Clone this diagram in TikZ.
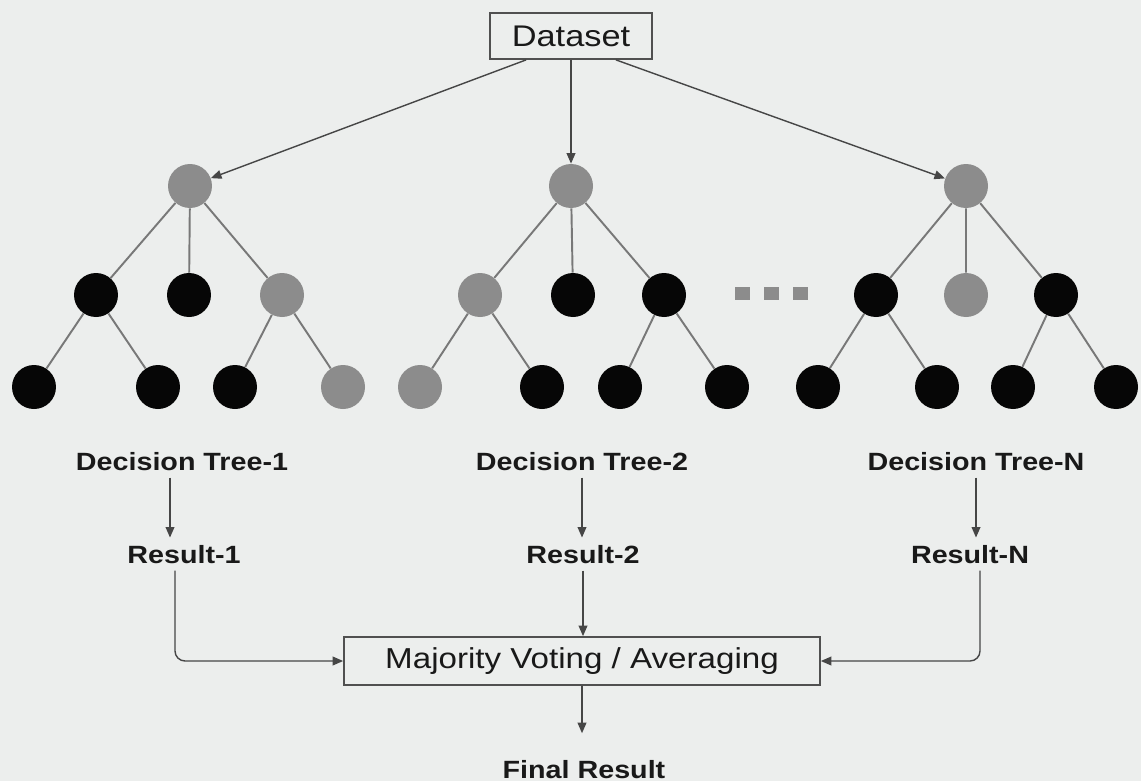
\documentclass[tikz,border=0pt]{standalone}
\usepackage{fontspec}
\setmainfont{Liberation Sans}[FakeStretch=1.15]
\usetikzlibrary{arrows.meta}
\definecolor{bg}{RGB}{236,238,237}
\definecolor{nodeblack}{RGB}{6,6,6}
\definecolor{nodegray}{RGB}{140,140,140}
\definecolor{edgegray}{RGB}{120,120,120}
\definecolor{linedark}{RGB}{70,70,70}
\definecolor{boxgray}{RGB}{80,80,80}
\definecolor{txt}{RGB}{25,25,25}
\begin{document}
\begin{tikzpicture}[x=0.02cm,y=-0.02cm,
  blk/.style={circle,fill=nodeblack,minimum size=0.88cm,inner sep=0pt},
  gry/.style={circle,fill=nodegray,minimum size=0.88cm,inner sep=0pt},
  branch/.style={draw=edgegray,line width=1.1pt},
  flow/.style={draw=linedark,line width=0.8pt,-{Triangle[length=6pt,width=5pt]}},
  lbl/.style={font=\fontsize{14.2}{17}\selectfont\bfseries,text=txt,inner sep=4pt},
  box/.style={draw=boxgray,line width=1pt,text=txt,inner sep=0pt},
  dot/.style={rectangle,fill=nodegray,minimum width=0.3cm,minimum height=0.26cm,inner sep=0pt}]

% page
\fill[bg] (0,0) rectangle (1141,781);
\useasboundingbox (0,0) rectangle (1141,781);

% source
\node[box,minimum width=3.24cm,minimum height=0.92cm,font=\fontsize{17}{20}\selectfont] (ds) at (571,36) {Dataset};

% tree 1
\node[gry] (t1) at (190,186) {};
\node[blk] (t1a) at (96,295) {};
\node[blk] (t1b) at (189,295) {};
\node[gry] (t1c) at (282,295) {};
\node[blk] (t1aa) at (34,387) {};
\node[blk] (t1ab) at (158,387) {};
\node[blk] (t1ca) at (235,387) {};
\node[gry] (t1cb) at (343,387) {};
\draw[branch] (t1) -- (t1a) (t1) -- (t1b) (t1) -- (t1c)
  (t1a) -- (t1aa) (t1a) -- (t1ab) (t1c) -- (t1ca) (t1c) -- (t1cb);

% tree 2
\node[gry] (t2) at (571,186) {};
\node[gry] (t2a) at (480,295) {};
\node[blk] (t2b) at (573,295) {};
\node[blk] (t2c) at (664,295) {};
\node[gry] (t2aa) at (420,387) {};
\node[blk] (t2ab) at (542,387) {};
\node[blk] (t2ca) at (620,387) {};
\node[blk] (t2cb) at (727,387) {};
\draw[branch] (t2) -- (t2a) (t2) -- (t2b) (t2) -- (t2c)
  (t2a) -- (t2aa) (t2a) -- (t2ab) (t2c) -- (t2ca) (t2c) -- (t2cb);

% ellipsis between trees
\node[dot] (d1) at (742,293) {};
\node[dot] (d2) at (771,293) {};
\node[dot] (d3) at (800,293) {};

% tree N
\node[gry] (t3) at (966,186) {};
\node[blk] (t3a) at (876,295) {};
\node[gry] (t3b) at (966,295) {};
\node[blk] (t3c) at (1056,295) {};
\node[blk] (t3aa) at (818,387) {};
\node[blk] (t3ab) at (937,387) {};
\node[blk] (t3ca) at (1013,387) {};
\node[blk] (t3cb) at (1116,387) {};
\draw[branch] (t3) -- (t3a) (t3) -- (t3b) (t3) -- (t3c)
  (t3a) -- (t3aa) (t3a) -- (t3ab) (t3c) -- (t3ca) (t3c) -- (t3cb);

% dataset to trees
\draw[flow] (ds.-152) -- (t1);
\draw[flow] (ds.south) -- (t2);
\draw[flow] (ds.-28) -- (t3);

% labels
\node[lbl,anchor=base] (dt1) at (182,470) {Decision Tree-1};
\node[lbl,anchor=base] (dt2) at (582,470) {Decision Tree-2};
\node[lbl,anchor=base] (dtn) at (976,470) {Decision Tree-N};
\node[lbl,anchor=base] (r1) at (184,563) {Result-1};
\node[lbl,anchor=base] (r2) at (583,563) {Result-2};
\node[lbl,anchor=base] (rn) at (970,563) {Result-N};

\draw[flow] ([xshift=-12*0.02cm]dt1.south) -- ([xshift=-12*0.02cm]dt1.south |- r1.north);
\draw[flow] (dt2.south) -- (dt2.south |- r2.north);
\draw[flow] (dtn.south) -- (dtn.south |- rn.north);

% aggregation
\node[box,minimum width=9.52cm,minimum height=0.96cm,font=\fontsize{16.4}{19}\selectfont] (mv) at (582,661) {Majority Voting / Averaging};

\draw[flow,rounded corners=0.2cm] ([xshift=-9*0.02cm]r1.south) |- (mv.west);
\draw[flow] (r2.south) -- (r2.south |- mv.north);
\draw[flow,rounded corners=0.2cm] ([xshift=10*0.02cm]rn.south) |- (mv.east);

\node[lbl,anchor=base] (fr) at (584,778) {Final Result};
\draw[flow,shorten >=11pt] (mv.south) -- (mv.south |- fr.north);
\end{tikzpicture}
\end{document}
